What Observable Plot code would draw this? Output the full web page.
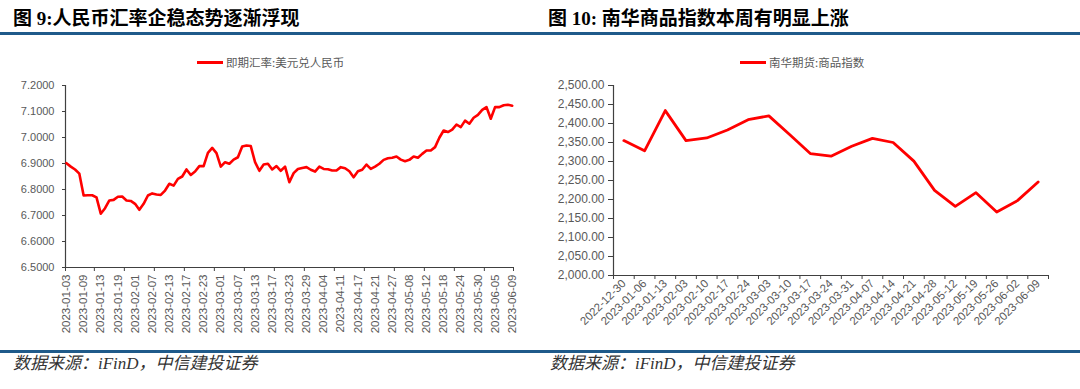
<!DOCTYPE html>
<html><head><meta charset="utf-8">
<script src="https://cdn.jsdelivr.net/npm/d3@7"></script>
<script src="https://cdn.jsdelivr.net/npm/@observablehq/plot@0.6"></script>
<style>
body{margin:0;background:#fff;}
#wrap{position:relative;width:1080px;height:389px;overflow:hidden;font-family:Arial,"Liberation Sans","Noto Sans CJK SC",sans-serif;}
.title{position:absolute;top:8px;font-family:"Liberation Serif","Noto Sans CJK SC",serif;font-weight:bold;font-size:19px;line-height:21px;color:#000;white-space:nowrap;}
.rule{position:absolute;left:0;width:1080px;height:3px;background:#1f5a8a;}
.src{position:absolute;top:355px;font-family:"Liberation Serif","Noto Sans CJK SC",serif;font-style:italic;font-size:17px;line-height:18px;color:#333;white-space:nowrap;}
.legend{position:absolute;top:54px;font-family:"Noto Sans CJK SC",sans-serif;font-size:11.5px;line-height:16px;color:#595959;white-space:nowrap;display:flex;align-items:center;}
.legend i{display:inline-block;width:26px;height:3px;background:#ff0000;margin-right:3px;}
.chart{position:absolute;top:40px;}
</style></head>
<body><div id="wrap">
<div class="title" style="left:13px">图 9:人民币汇率企稳态势逐渐浮现</div>
<div class="title" style="left:548px">图 10: 南华商品指数本周有明显上涨</div>
<div class="rule" style="top:32px"></div>
<div class="legend" style="left:197px"><i></i>即期汇率:美元兑人民币</div>
<div class="legend" style="left:740px"><i></i>南华期货:商品指数</div>
<div class="chart" id="left" style="left:0px"></div>
<div class="chart" id="right" style="left:540px"></div>
<div class="rule" style="top:350px"></div>
<div class="src" style="left:13px">数据来源：iFinD，中信建投证券</div>
<div class="src" style="left:550px">数据来源：iFinD，中信建投证券</div>
</div>
<script>
const fxDates = [
"2023-01-03","2023-01-04","2023-01-05","2023-01-06","2023-01-09","2023-01-10","2023-01-11","2023-01-12","2023-01-13","2023-01-16",
"2023-01-17","2023-01-18","2023-01-19","2023-01-20","2023-01-30","2023-01-31","2023-02-01","2023-02-02","2023-02-03","2023-02-06",
"2023-02-07","2023-02-08","2023-02-09","2023-02-10","2023-02-13","2023-02-14","2023-02-15","2023-02-16","2023-02-17","2023-02-20",
"2023-02-21","2023-02-22","2023-02-23","2023-02-24","2023-02-27","2023-02-28","2023-03-01","2023-03-02","2023-03-03","2023-03-06",
"2023-03-07","2023-03-08","2023-03-09","2023-03-10","2023-03-13","2023-03-14","2023-03-15","2023-03-16","2023-03-17","2023-03-20",
"2023-03-21","2023-03-22","2023-03-23","2023-03-24","2023-03-27","2023-03-28","2023-03-29","2023-03-30","2023-03-31","2023-04-03",
"2023-04-04","2023-04-06","2023-04-07","2023-04-10","2023-04-11","2023-04-12","2023-04-13","2023-04-14","2023-04-17","2023-04-18",
"2023-04-19","2023-04-20","2023-04-21","2023-04-24","2023-04-25","2023-04-26","2023-04-27","2023-04-28","2023-05-04","2023-05-05",
"2023-05-08","2023-05-09","2023-05-10","2023-05-11","2023-05-12","2023-05-15","2023-05-16","2023-05-17","2023-05-18","2023-05-19",
"2023-05-22","2023-05-23","2023-05-24","2023-05-25","2023-05-26","2023-05-29","2023-05-30","2023-05-31","2023-06-01","2023-06-02",
"2023-06-05","2023-06-06","2023-06-07","2023-06-08","2023-06-09"];
const fxValues = [
6.901,6.888,6.877,6.861,6.777,6.778,6.778,6.770,6.707,6.728,
6.758,6.760,6.772,6.773,6.758,6.756,6.745,6.722,6.745,6.777,
6.785,6.781,6.779,6.796,6.822,6.815,6.841,6.850,6.877,6.856,
6.869,6.890,6.890,6.941,6.960,6.940,6.888,6.905,6.899,6.915,
6.924,6.965,6.969,6.967,6.905,6.872,6.896,6.899,6.877,6.890,
6.872,6.888,6.828,6.863,6.879,6.883,6.886,6.876,6.869,6.888,
6.879,6.878,6.873,6.873,6.886,6.882,6.870,6.847,6.870,6.876,
6.896,6.879,6.888,6.899,6.914,6.920,6.922,6.927,6.915,6.909,
6.914,6.927,6.922,6.937,6.950,6.950,6.963,6.999,7.027,7.021,
7.030,7.050,7.040,7.065,7.053,7.076,7.087,7.106,7.117,7.072,
7.117,7.117,7.124,7.126,7.122];
const fxYTicks = [6.5,6.6,6.7,6.8,6.9,7.0,7.1,7.2];

const nhDates = ["2022-12-30","2023-01-06","2023-01-13","2023-02-03","2023-02-10","2023-02-17","2023-02-24",
"2023-03-03","2023-03-10","2023-03-17","2023-03-24","2023-03-31","2023-04-07","2023-04-14","2023-04-21",
"2023-04-28","2023-05-12","2023-05-19","2023-05-26","2023-06-02","2023-06-09"];
const nhValues = [2355,2328,2434,2355,2362,2383,2410,2420,2371,2321,2314,2340,2361,2350,2301,2224,2182,2218,2167,2197,2246];
const nhYTicks = [2000,2050,2100,2150,2200,2250,2300,2350,2400,2450,2500];

const axisColor = "#404040";
const textColor = "#595959";

const fxData = fxDates.map((d,i)=>({i, date:d, value:fxValues[i]}));
const fxX0 = -0.23, fxX1 = 104.3;
const fxMinor = [fxX0].concat(d3.range(1,15).map(k=>7*k-0.5)).concat([fxX1]);
const left = Plot.plot({
  width:540, height:300, marginLeft:65, marginRight:27, marginTop:45, marginBottom:73,
  style:{fontFamily:"Arial, 'Liberation Sans', sans-serif", color:textColor, background:"transparent", overflow:"visible"},
  x:{type:"linear", domain:[fxX0,fxX1], label:null},
  y:{domain:[6.5,7.2], label:null},
  marks:[
    Plot.ruleY([6.5],{stroke:axisColor, strokeWidth:1.2}),
    Plot.ruleX([fxX0],{stroke:axisColor, strokeWidth:1.2}),
    Plot.axisY({ticks:fxYTicks, tickFormat:d3.format(".4f"), tickSize:3, tickPadding:8, fontSize:11, stroke:axisColor, label:null}),
    Plot.axisX({ticks:fxMinor, tickFormat:()=>"", tickSize:4, stroke:axisColor, label:null}),
    Plot.axisX({ticks:d3.range(0,105,4), tickFormat:i=>fxDates[i], tickRotate:-90, tickSize:0, tickPadding:7, fontSize:11.5, label:null}),
    Plot.line(fxData,{x:"i", y:"value", stroke:"#ff0000", strokeWidth:2.6})
  ]
});
document.getElementById("left").appendChild(left);

const nhData = nhDates.map((d,i)=>({i, date:d, value:nhValues[i]}));
const right = Plot.plot({
  width:540, height:300, marginLeft:73, marginRight:32, marginTop:45, marginBottom:65,
  style:{fontFamily:"Arial, 'Liberation Sans', sans-serif", color:textColor, background:"transparent", overflow:"visible"},
  x:{type:"linear", domain:[-0.5,20.5], label:null},
  y:{domain:[2000,2500], label:null},
  marks:[
    Plot.ruleY([2000],{stroke:axisColor, strokeWidth:1.2}),
    Plot.ruleX([-0.5],{stroke:axisColor, strokeWidth:1.2}),
    Plot.axisY({ticks:nhYTicks, tickFormat:d3.format(",.2f"), tickSize:5, tickPadding:4, fontSize:12, stroke:axisColor, label:null}),
    Plot.axisX({ticks:d3.range(-0.5,21,1), tickFormat:()=>"", tickSize:4, stroke:axisColor, label:null}),
    Plot.axisX({ticks:d3.range(0,21), tickFormat:i=>nhDates[i], tickRotate:-45, tickSize:0, tickPadding:6, fontSize:11.5, label:null}),
    Plot.line(nhData,{x:"i", y:"value", stroke:"#ff0000", strokeWidth:2.8})
  ]
});
document.getElementById("right").appendChild(right);
</script>
</body></html>
